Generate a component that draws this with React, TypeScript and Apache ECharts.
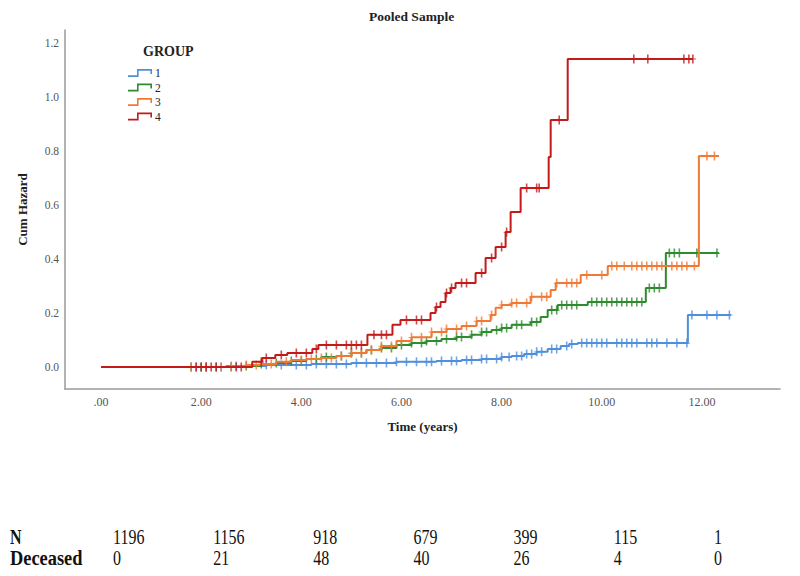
import React, { useEffect, useRef } from "react";
import * as echarts from "echarts";

// ---- data ----
const GROUPS = ["1", "2", "3", "4"];
const COLORS = ["#4f8fdc", "#2e8b2e", "#f07a35", "#c41a1a"];

// step points [time (years), cumulative hazard]
const group1Steps: [number, number][] = [
  [0, 0], [2.5, 0.004], [3.3, 0.007], [4.2, 0.011], [5.0, 0.015], [5.9, 0.019],
  [6.7, 0.022], [7.2, 0.026], [7.6, 0.03], [8.0, 0.037], [8.2, 0.041], [8.45, 0.048],
  [8.7, 0.056], [8.92, 0.067], [9.18, 0.078], [9.35, 0.085], [9.52, 0.089],
  [11.72, 0.193], [12.58, 0.193],
];
const group2Steps: [number, number][] = [
  [0, 0], [2.9, 0.004], [3.2, 0.011], [3.5, 0.015], [3.8, 0.022], [4.1, 0.03],
  [4.4, 0.037], [4.7, 0.041], [5.0, 0.052], [5.3, 0.063], [5.6, 0.07], [5.9, 0.081],
  [6.2, 0.089], [6.5, 0.096], [6.8, 0.104], [7.1, 0.111], [7.4, 0.119], [7.6, 0.13],
  [7.8, 0.137], [8.0, 0.144], [8.2, 0.156], [8.58, 0.167], [8.78, 0.185], [8.92, 0.211],
  [9.12, 0.23], [9.72, 0.241], [10.88, 0.293], [11.28, 0.422], [12.34, 0.422],
];
const group3Steps: [number, number][] = [
  [0, 0], [2.6, 0.004], [2.9, 0.007], [3.2, 0.011], [3.5, 0.019], [3.8, 0.026],
  [4.1, 0.03], [4.4, 0.033], [4.7, 0.041], [5.0, 0.052], [5.3, 0.063], [5.6, 0.078],
  [5.9, 0.096], [6.2, 0.11], [6.6, 0.13], [6.9, 0.141], [7.2, 0.152], [7.5, 0.17],
  [7.78, 0.193], [7.88, 0.219], [8.0, 0.23], [8.2, 0.237], [8.58, 0.26], [8.98, 0.285],
  [9.08, 0.311], [9.58, 0.341], [10.12, 0.374], [11.94, 0.781], [12.34, 0.781],
];
const group4Steps: [number, number][] = [
  [0, 0], [3.02, 0.019], [3.22, 0.033], [3.48, 0.044], [3.72, 0.052], [4.22, 0.067],
  [4.34, 0.081], [5.32, 0.119], [5.82, 0.156], [5.98, 0.174], [6.58, 0.2], [6.68, 0.222],
  [6.78, 0.241], [6.88, 0.274], [6.98, 0.293], [7.08, 0.311], [7.48, 0.348], [7.68, 0.404],
  [7.88, 0.444], [8.08, 0.5], [8.18, 0.574], [8.38, 0.663], [8.94, 0.778], [8.98, 0.915],
  [9.32, 1.141], [11.82, 1.141],
];

// censoring times (years)
const group1Censored = [
  1.9, 2.1, 2.4, 2.7, 3.3, 3.6, 3.9, 4.1, 4.3, 4.5, 4.7, 4.9, 5.1, 5.3, 5.5, 5.7, 5.9,
  6.1, 6.3, 6.5, 6.6, 6.8, 7.0, 7.1, 7.3, 7.4, 7.6, 7.7, 7.9, 8.0, 8.15, 8.3, 8.4, 8.5,
  8.6, 8.7, 8.8, 9.0, 9.1, 9.3, 9.4, 9.6, 9.7, 9.8, 9.9, 10.0, 10.1, 10.3, 10.4, 10.5,
  10.6, 10.7, 10.9, 11.0, 11.1, 11.3, 11.5, 11.7, 11.8, 12.1, 12.3, 12.55,
];
const group2Censored = [
  1.8, 2.0, 2.3, 2.6, 2.9, 3.2, 3.5, 3.8, 4.0, 4.3, 4.5, 4.8, 5.0, 5.2, 5.4, 5.6, 5.8,
  6.0, 6.2, 6.4, 6.5, 6.7, 6.9, 7.1, 7.2, 7.4, 7.6, 7.7, 7.9, 8.0, 8.1, 8.3, 8.4, 8.6,
  8.7, 9.0, 9.1, 9.2, 9.3, 9.4, 9.5, 9.8, 9.9, 10.0, 10.1, 10.2, 10.3, 10.4, 10.5, 10.6,
  10.7, 10.8, 10.95, 11.05, 11.15, 11.35, 11.45, 11.55, 11.9, 12.3,
];
const group3Censored = [
  1.8, 2.1, 2.4, 2.6, 2.9, 3.1, 3.4, 3.7, 4.0, 4.2, 4.4, 4.6, 4.8, 5.0, 5.2, 5.4, 5.6,
  5.8, 6.0, 6.2, 6.4, 6.6, 6.8, 6.9, 7.1, 7.3, 7.5, 7.6, 7.8, 8.0, 8.2, 8.3, 8.5, 8.6,
  8.8, 8.9, 9.1, 9.3, 9.4, 9.5, 9.7, 10.0, 10.2, 10.3, 10.45, 10.6, 10.7, 10.8, 10.9,
  11.0, 11.1, 11.2, 11.4, 11.5, 11.6, 11.7, 11.85, 12.1, 12.25,
];
const group4Censored = [
  1.9, 2.0, 2.1, 2.2, 2.3, 2.7, 2.8, 3.2, 3.3, 3.6, 3.9, 4.1, 4.3, 4.5, 4.7, 4.9, 5.0,
  5.1, 5.2, 5.45, 5.6, 5.7, 6.1, 6.3, 6.4, 6.7, 6.9, 7.0, 7.2, 7.3, 7.6, 7.8, 8.0, 8.1,
  8.5, 8.7, 8.75, 9.15, 10.64, 10.92, 11.64, 11.74, 11.82,
];

const X_TICKS = [0, 2, 4, 6, 8, 10, 12];
const Y_TICKS = [0, 0.2, 0.4, 0.6, 0.8, 1.0, 1.2];

const TABLE_TIMES = [0, 2, 4, 6, 8, 10, 12];
const AT_RISK = ["1196", "1156", "918", "679", "399", "115", "1"];
const DECEASED = ["0", "21", "48", "40", "26", "4", "0"];

const X_MIN = -0.72;
const X_MAX = 13.56;
const Y_MIN = -0.0815;
const Y_MAX = 1.248;

const FONT = "Liberation Serif";
const PLUS = "path://M2.2,0 H3.8 V4.2 H6 V5.2 H3.8 V9 H2.2 V5.2 H0 V4.2 H2.2 Z";
const STEP_ICON =
  "path://M0,6.3 L9,6.3 L9,0 L24,0 L24,5 L22.4,5 L22.4,1.6 L10.6,1.6 L10.6,7.9 L0,7.9 Z";

const ALL_STEPS = [group1Steps, group2Steps, group3Steps, group4Steps];
const ALL_CENSORED = [group1Censored, group2Censored, group3Censored, group4Censored];

function valueAt(steps: [number, number][], t: number): number {
  let v = steps[0][1];
  for (const [st, sv] of steps) {
    if (st <= t) v = sv;
    else break;
  }
  return v;
}

export default function App() {
  const ref = useRef<HTMLDivElement>(null);

  useEffect(() => {
    if (!ref.current) return;
    const chart = echarts.init(ref.current, null, { renderer: "svg" });

    const series: any[] = [];
    GROUPS.forEach((g, i) => {
      series.push({
        name: g,
        type: "line",
        step: "end",
        data: ALL_STEPS[i],
        showSymbol: false,
        symbol: "none",
        lineStyle: { color: COLORS[i], width: 2 },
        itemStyle: { color: COLORS[i] },
        z: 2 + i,
      });
      series.push({
        name: "censored " + g,
        type: "scatter",
        data: ALL_CENSORED[i].map((t) => [t, valueAt(ALL_STEPS[i], t)]),
        symbol: PLUS,
        symbolSize: [6, 9],
        itemStyle: { color: COLORS[i] },
        z: 2 + i,
      });
    });

    chart.setOption({
      animation: false,
      textStyle: { fontFamily: FONT },
      title: {
        text: "Pooled Sample",
        left: 364,
        top: 4,
        textStyle: { fontFamily: FONT, fontSize: 13.5, fontWeight: "bold", color: "#222" },
      },
      grid: { left: 65, right: 20, top: 30, bottom: 187 },
      xAxis: {
        type: "value",
        min: X_MIN,
        max: X_MAX,
        name: "Time (years)",
        nameLocation: "middle",
        nameGap: 31,
        nameTextStyle: { fontFamily: FONT, fontWeight: "bold", fontSize: 13, color: "#222" },
        axisLine: { show: true, onZero: false, lineStyle: { color: "#9a9a9a", width: 1.5 } },
        axisTick: { show: false },
        splitLine: { show: false },
        axisLabel: {
          customValues: X_TICKS,
          formatter: (v: number) => (v === 0 ? ".00" : v.toFixed(2)),
          color: "#555",
          fontSize: 12,
          fontFamily: FONT,
          margin: 7,
        },
      },
      yAxis: {
        type: "value",
        min: Y_MIN,
        max: Y_MAX,
        name: "Cum Hazard",
        nameLocation: "middle",
        nameGap: 36,
        nameRotate: 90,
        nameTextStyle: { fontFamily: FONT, fontWeight: "bold", fontSize: 13, color: "#222" },
        axisLine: { show: true, onZero: false, lineStyle: { color: "#9a9a9a", width: 1.5 } },
        axisTick: { show: false },
        splitLine: { show: false },
        axisLabel: {
          customValues: Y_TICKS,
          formatter: (v: number) => v.toFixed(1),
          color: "#555",
          fontSize: 11.5,
          fontFamily: FONT,
          margin: 6,
        },
      },
      legend: {
        data: GROUPS.map((g, i) => ({ name: g, icon: STEP_ICON, itemStyle: { color: COLORS[i] } })),
        orient: "vertical",
        left: 128,
        top: 67,
        padding: 0,
        itemWidth: 24,
        itemHeight: 8,
        itemGap: 2.5,
        textStyle: { fontFamily: FONT, fontSize: 11.5, lineHeight: 11, color: "#222", padding: [0, 0, 0, -2] },
      },
      series,
    });

    const px = (t: number) => chart.convertToPixel({ xAxisIndex: 0 }, t) as number;
    const graphics: any[] = [
      {
        type: "text",
        left: 143,
        top: 44,
        style: { text: "GROUP", font: `bold 14px '${FONT}'`, fill: "#222" },
      },
      {
        type: "text",
        x: 10,
        y: 537,
        scaleY: 1.3,
        style: { text: "N", font: `bold 16px '${FONT}'`, fill: "#111", verticalAlign: "middle" },
      },
      {
        type: "text",
        x: 10,
        y: 558,
        scaleX: 1.15,
        scaleY: 1.3,
        style: { text: "Deceased", font: `bold 16px '${FONT}'`, fill: "#111", verticalAlign: "middle" },
      },
    ];
    TABLE_TIMES.forEach((t, i) => {
      const x = px(t) + 12;
      graphics.push({
        type: "text",
        x,
        y: 537,
        scaleY: 1.3,
        style: { text: AT_RISK[i], font: `16px '${FONT}'`, fill: "#111", verticalAlign: "middle" },
      });
      graphics.push({
        type: "text",
        x,
        y: 558,
        scaleY: 1.3,
        style: { text: DECEASED[i], font: `16px '${FONT}'`, fill: "#111", verticalAlign: "middle" },
      });
    });
    chart.setOption({ graphic: graphics });

    return () => chart.dispose();
  }, []);

  return (
    <div
      ref={ref}
      style={{ position: "fixed", left: 0, top: 0, width: 800, height: 576, background: "#fff" }}
    />
  );
}
